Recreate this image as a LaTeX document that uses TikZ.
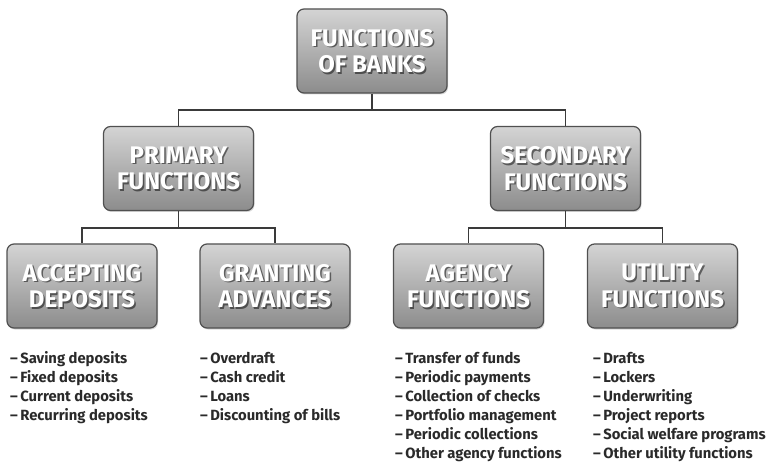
\documentclass[tikz,border=0pt]{standalone}
\usepackage{fontspec}
\setmainfont{Fira Sans}
\usetikzlibrary{shadows}
\definecolor{boxtop}{HTML}{D4D4D4}
\definecolor{boxbot}{HTML}{8C8C8C}
\definecolor{boxline}{HTML}{505050}
\definecolor{connc}{HTML}{3A3A3A}
\definecolor{itemc}{HTML}{2A2A2A}
\newcommand\boxlabel[2]{%
  \node[lbl,text=black,text opacity=0.5] (#1-s) at ([shift={(1.5pt,-1.5pt)}]#1.center) {#2};
  \node[lbl] (#1-t) at (#1.center) {#2};}
\begin{document}
\begin{tikzpicture}[x=1pt,y=-1pt,
  box/.style={draw=boxline, line width=1.2pt, rounded corners=7pt,
    minimum width=150pt, minimum height=84pt, inner sep=0pt,
    top color=boxtop, bottom color=boxbot,
    drop shadow={shadow xshift=1pt, shadow yshift=-1.5pt, opacity=0.3}},
  lbl/.style={align=center, text=white, inner sep=0pt,
    font=\fontsize{24}{26.5}\selectfont\bfseries},
  conn/.style={draw=connc, line width=1.6pt},
  item/.style={anchor=base west, inner sep=0pt, text=itemc,
    font=\fontsize{14.8}{19}\selectfont\bfseries}]
\fill[white] (0,0) rectangle (771,462);
\useasboundingbox (0,0) rectangle (771,462);

% boxes
\node[box] (top)  at (372,51) {};
\node[box] (prim) at (178.5,168.5) {};
\node[box] (sec)  at (565.5,168.5) {};
\node[box] (acc)  at (82,286) {};
\node[box] (gra)  at (275,286) {};
\node[box] (age)  at (468.5,286) {};
\node[box] (uti)  at (662.5,286) {};

% connectors
\coordinate (j1) at (372,110);
\coordinate (j2) at (178.5,228);
\coordinate (j3) at (565.5,228);
\draw[conn] (top.south) -- (j1);
\draw[conn] (prim.north) |- (j1) -| (sec.north);
\draw[conn] (prim.south) -- (j2);
\draw[conn] (acc.north) |- (j2) -| (gra.north);
\draw[conn] (sec.south) -- (j3);
\draw[conn] (age.north) |- (j3) -| (uti.north);

% labels
\boxlabel{top}{FUNCTIONS\\OF BANKS}
\boxlabel{prim}{PRIMARY\\FUNCTIONS}
\boxlabel{sec}{SECONDARY\\FUNCTIONS}
\boxlabel{acc}{ACCEPTING\\DEPOSITS}
\boxlabel{gra}{GRANTING\\ADVANCES}
\boxlabel{age}{AGENCY\\FUNCTIONS}
\boxlabel{uti}{UTILITY\\FUNCTIONS}

% lists
\foreach \t [count=\k] in {Saving deposits,Fixed deposits,Current deposits,Recurring deposits}
  \node[item] (la\k) at (10,{363+(\k-1)*19}) {–\,\t};
\foreach \t [count=\k] in {Overdraft,Cash credit,Loans,Discounting of bills}
  \node[item] (lg\k) at (200,{363+(\k-1)*19}) {–\,\t};
\foreach \t [count=\k] in {Transfer of funds,Periodic payments,Collection of checks,Portfolio management,Periodic collections,Other agency functions}
  \node[item] (lc\k) at (395,{363+(\k-1)*19}) {–\,\t};
\foreach \t [count=\k] in {Drafts,Lockers,Underwriting,Project reports,Social welfare programs,Other utility functions}
  \node[item] (lu\k) at (593,{363+(\k-1)*19}) {–\,\t};
\end{tikzpicture}
\end{document}
